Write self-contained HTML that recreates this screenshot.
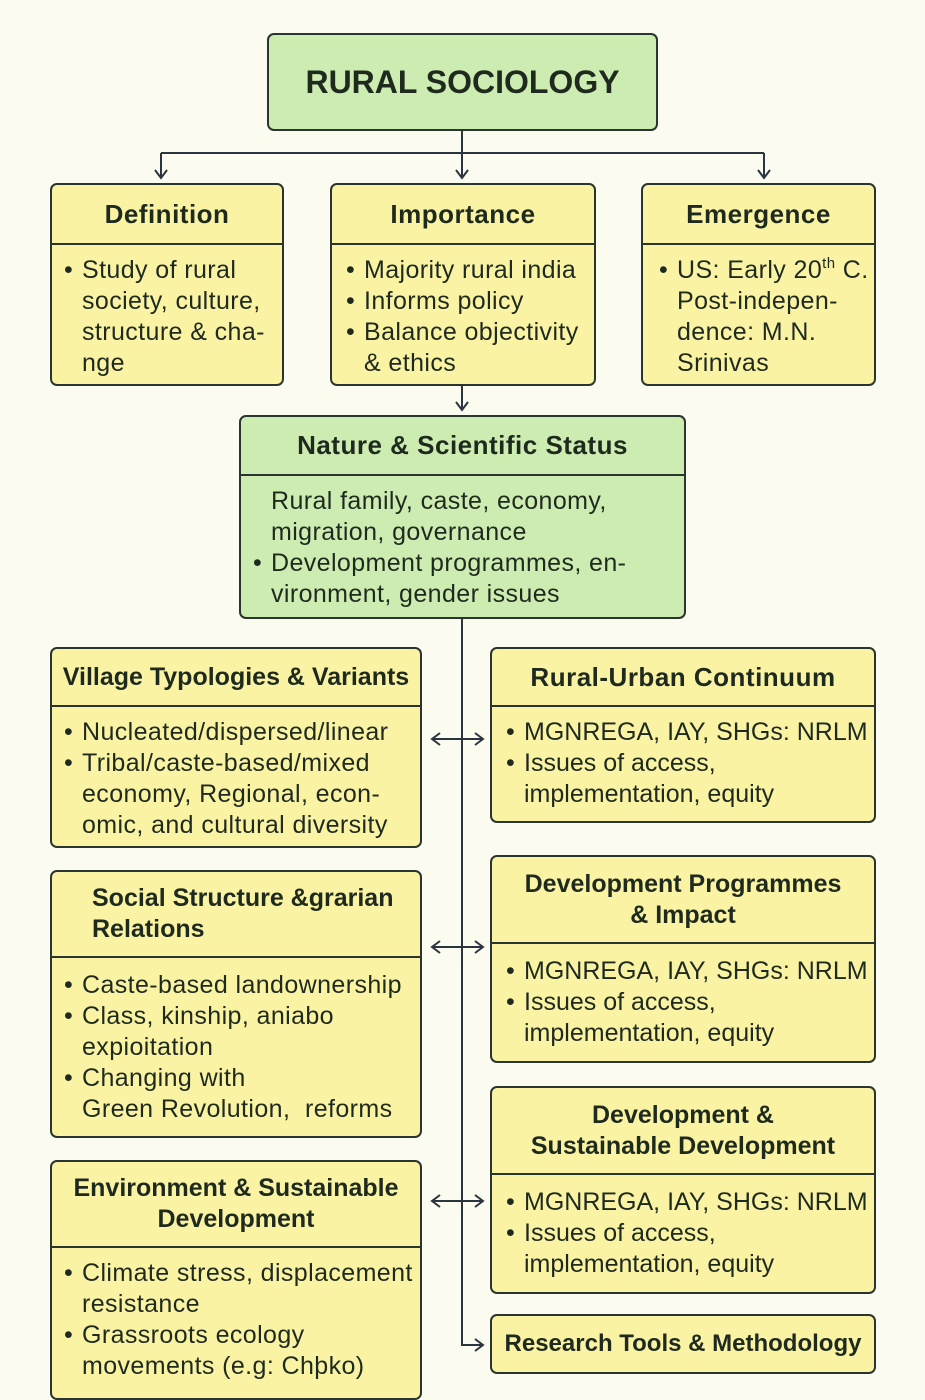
<!DOCTYPE html>
<html><head><meta charset="utf-8"><style>
body{margin:0;width:925px;height:1388px;background:#fbfbef;position:relative;overflow:hidden;font-family:"Liberation Sans",sans-serif;color:#1f2a1f}
.b{position:absolute;box-sizing:border-box;border:2px solid #2b3530;border-radius:7px;background:#faf3a4;overflow:hidden}
.g{background:#cdecb2}
.h{position:absolute;left:0;right:0;top:0;border-bottom:2px solid #2b3530;font-weight:bold;font-size:26px;display:flex;align-items:center;justify-content:center;text-align:center;line-height:31px;letter-spacing:0.5px}
.h.s{font-size:25px;letter-spacing:0}
.t{position:absolute;font-size:25px;line-height:31px;white-space:nowrap;letter-spacing:0.4px}
.t.r{letter-spacing:0}
.t div{position:relative;padding-left:18px}
.t div.d::before{content:"•";position:absolute;left:0}
sup{font-size:15px;line-height:0;vertical-align:10px}
svg{position:absolute;left:0;top:0}
</style></head><body>
<svg width="925" height="1388" stroke="#2b3540" stroke-width="2" fill="none">
<path d="M462 130V178M161 153H764M161 153V178M764 153V178"/>
<path d="M155 170l6 8 6-8M456 170l6 8 6-8M758 170l6 8 6-8"/>
<path d="M462 386V410M456 402l6 8 6-8"/>
<path d="M462 618V1345H483M475 1339l8 6-8 6"/>
<path d="M432 739H483M440 733l-8 6 8 6M475 733l8 6-8 6"/>
<path d="M432 947H483M440 941l-8 6 8 6M475 941l8 6-8 6"/>
<path d="M432 1201H483M440 1195l-8 6 8 6M475 1195l8 6-8 6"/>
</svg>

<div class="b g" style="left:267px;top:33px;width:391px;height:98px;display:flex;align-items:center;justify-content:center;font-weight:bold;font-size:32px">RURAL SOCIOLOGY</div>

<div class="b" style="left:50px;top:183px;width:234px;height:203px"><div class="h" style="height:58px">Definition</div>
<div class="t" style="left:12px;top:70px"><div class="d">Study of rural</div><div>society, culture,</div><div>structure &amp; cha-</div><div>nge</div></div></div>

<div class="b" style="left:330px;top:183px;width:266px;height:203px"><div class="h" style="height:58px">Importance</div>
<div class="t" style="left:14px;top:70px"><div class="d">Majority rural india</div><div class="d">Informs policy</div><div class="d">Balance objectivity</div><div>&amp; ethics</div></div></div>

<div class="b" style="left:641px;top:183px;width:235px;height:203px"><div class="h" style="height:58px">Emergence</div>
<div class="t" style="left:16px;top:70px"><div class="d">US: Early 20<sup>th</sup> C.</div><div>Post-indepen-</div><div>dence: M.N.</div><div>Srinivas</div></div></div>

<div class="b g" style="left:239px;top:415px;width:447px;height:204px"><div class="h" style="height:57px">Nature &amp; Scientific Status</div>
<div class="t" style="left:12px;top:69px"><div>Rural family, caste, economy,</div><div>migration, governance</div><div class="d">Development programmes, en-</div><div>vironment, gender issues</div></div></div>

<div class="b" style="left:50px;top:647px;width:372px;height:201px"><div class="h s" style="height:56px">Village Typologies &amp; Variants</div>
<div class="t" style="left:12px;top:68px"><div class="d">Nucleated/dispersed/linear</div><div class="d">Tribal/caste-based/mixed</div><div>economy, Regional, econ-</div><div>omic, and cultural diversity</div></div></div>

<div class="b" style="left:490px;top:647px;width:386px;height:176px"><div class="h" style="height:56px">Rural-Urban Continuum</div>
<div class="t r" style="left:14px;top:68px"><div class="d">MGNREGA, IAY, SHGs: NRLM</div><div class="d">Issues of access,</div><div>implementation, equity</div></div></div>

<div class="b" style="left:50px;top:870px;width:372px;height:268px"><div class="h s" style="height:84px;justify-content:flex-start;padding-left:40px;text-align:left">Social Structure &amp;grarian<br>Relations</div>
<div class="t" style="left:12px;top:98px"><div class="d">Caste-based landownership</div><div class="d">Class, kinship, aniabo</div><div>expioitation</div><div class="d">Changing with</div><div>Green Revolution,&nbsp; reforms</div></div></div>

<div class="b" style="left:490px;top:855px;width:386px;height:208px"><div class="h s" style="height:85px">Development Programmes<br>&amp; Impact</div>
<div class="t r" style="left:14px;top:99px"><div class="d">MGNREGA, IAY, SHGs: NRLM</div><div class="d">Issues of access,</div><div>implementation, equity</div></div></div>

<div class="b" style="left:50px;top:1160px;width:372px;height:240px"><div class="h s" style="height:84px">Environment &amp; Sustainable<br>Development</div>
<div class="t" style="left:12px;top:96px"><div class="d">Climate stress, displacement</div><div>resistance</div><div class="d">Grassroots ecology</div><div>movements (e.g: Chþko)</div></div></div>

<div class="b" style="left:490px;top:1086px;width:386px;height:208px"><div class="h s" style="height:85px">Development &amp;<br>Sustainable Development</div>
<div class="t r" style="left:14px;top:99px"><div class="d">MGNREGA, IAY, SHGs: NRLM</div><div class="d">Issues of access,</div><div>implementation, equity</div></div></div>

<div class="b" style="left:490px;top:1314px;width:386px;height:60px;display:flex;align-items:center;justify-content:center;font-weight:bold;font-size:24px">Research Tools &amp; Methodology</div>
</body></html>
